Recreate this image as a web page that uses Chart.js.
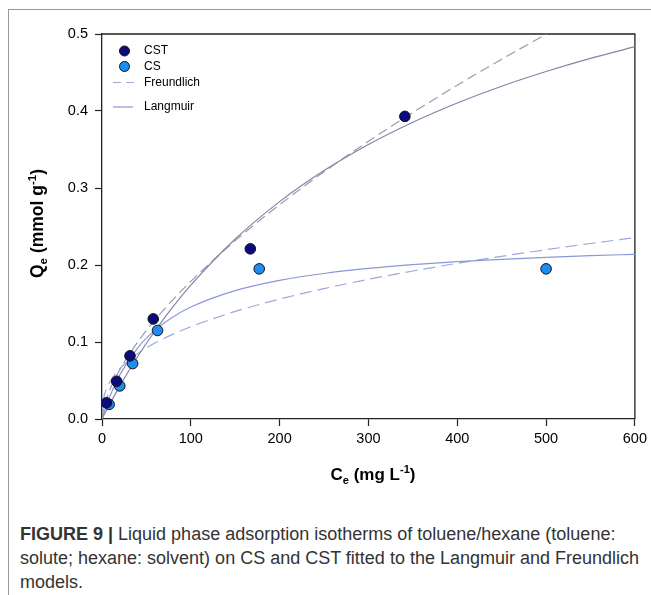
<!doctype HTML>
<html lang="en">
<head>
    <meta charset=utf-8>
    <title>Figure 9</title>
    <style type="text/css">
        * {
            padding: 0;
            margin: 0;
        }

        body {
            background: #fff;
        }

        #wrap {
            position: relative;
            width: 651px;
            height: 595px;
            overflow: hidden;
            background: #fff;
        }

        #frame {
            position: absolute;
            left: 8px;
            top: 9px;
            width: 700px;
            height: 700px;
            border-top: 1.5px solid #999;
            border-left: 1.5px solid #999;
        }

        canvas {
            position: absolute;
            left: 0;
            top: 0;
        }

        #caption {
            position: absolute;
            left: 20px;
            top: 522px;
            font: 18px 'Liberation Sans', Arial, sans-serif;
            line-height: 24px;
            color: #333;
            white-space: nowrap;
        }
    </style>
    <script src="https://cdn.jsdelivr.net/npm/chart.js"></script>
</head>
<body>
    <div id="wrap">
        <div id="frame"></div>
        <canvas id="isoChart" width="651" height="500"></canvas>
        <div id="caption">
            <b>FIGURE 9 |</b> Liquid phase adsorption isotherms of toluene/hexane (toluene:<br>
            solute; hexane: solvent) on CS and CST fitted to the Langmuir and Freundlich<br>
            models.
        </div>
    </div>

    <script type="text/javascript">
        // measured points
        const cstCe = [5, 16.5, 31.5, 57.7, 167, 341];
        const cstQe = [0.021, 0.049, 0.082, 0.130, 0.221, 0.393];
        const csCe = [8, 20, 34.5, 62.5, 177, 500];
        const csQe = [0.019, 0.043, 0.072, 0.115, 0.195, 0.195];

        // fitted curves
        const fitCe = [0, 2, 5, 10, 20, 40, 60, 80, 100, 150, 200, 250, 300, 350, 400, 450, 500, 550, 600];
        const cstLangmuir = [0, 0.0045, 0.0111, 0.0220, 0.0427, 0.0808, 0.1149, 0.1458, 0.1738, 0.2337, 0.2823, 0.3226, 0.3565, 0.3854, 0.4104, 0.4322, 0.4513, 0.4683, 0.4835];
        const cstFreundlich = [0, 0.0147, 0.0264, 0.0411, 0.0640, 0.0996, 0.1291, 0.1551, 0.1788, 0.2316, 0.2784, 0.3210, 0.3607, 0.3980, 0.4335, 0.4672, 0.4996, 0.5310, 0.5610];
        const csLangmuir = [0, 0.0073, 0.0175, 0.0326, 0.0573, 0.0922, 0.1157, 0.1326, 0.1454, 0.1667, 0.1800, 0.1890, 0.1955, 0.2004, 0.2043, 0.2074, 0.2100, 0.2121, 0.2139];
        const csFreundlich = [0, 0.0274, 0.0387, 0.0503, 0.0653, 0.0849, 0.0989, 0.1102, 0.1199, 0.1397, 0.1557, 0.1693, 0.1814, 0.1922, 0.2022, 0.2113, 0.2199, 0.2279, 0.2355];

        const xTicks = [0, 100, 200, 300, 400, 500, 600];
        const yTicks = [0, 0.1, 0.2, 0.3, 0.4, 0.5];

        const FONT = "'Liberation Sans', Arial, sans-serif";
        const CST_COLOR = '#0b0b7e';
        const CS_COLOR = '#1e8cf2';
        const CST_LINE = '#8484a6';
        const CST_DASH = '#9a9ab2';
        const CS_LINE = '#8a98d8';
        const CS_DASH = '#9ca8de';

        const pts = (xs, ys) => xs.map((x, i) => ({ x: x, y: ys[i] }));

        function lineSet(label, ys, color, dash) {
            return {
                label: label,
                data: pts(fitCe, ys),
                showLine: true,
                borderColor: color,
                borderWidth: 1.2,
                borderDash: dash,
                pointRadius: 0,
                cubicInterpolationMode: 'monotone',
                fill: false
            };
        }

        // draws a string made of parts with sub/superscripts, centered at (0,0)
        function drawRich(ctx, parts) {
            let w = 0;
            parts.forEach(p => {
                ctx.font = 'bold ' + p.size + 'px ' + FONT;
                p.w = ctx.measureText(p.t).width;
                w += p.w;
            });
            let x = -w / 2;
            ctx.textAlign = 'left';
            ctx.textBaseline = 'alphabetic';
            parts.forEach(p => {
                ctx.font = 'bold ' + p.size + 'px ' + FONT;
                ctx.fillText(p.t, x, p.dy || 0);
                x += p.w;
            });
        }

        const extras = {
            id: 'extras',
            beforeDatasetsDraw(chart) {
                const ctx = chart.ctx;
                const a = chart.chartArea;
                ctx.save();
                ctx.strokeStyle = '#222';
                ctx.lineWidth = 1.3;
                ctx.beginPath();
                ctx.moveTo(a.left, a.top);
                ctx.lineTo(a.right, a.top);
                ctx.lineTo(a.right, a.bottom);
                ctx.stroke();
                ctx.restore();
            },
            afterDraw(chart) {
                const ctx = chart.ctx;
                const a = chart.chartArea;
                ctx.save();
                ctx.fillStyle = '#000';

                // x title
                ctx.save();
                ctx.translate(373, 480);
                drawRich(ctx, [
                    { t: 'C', size: 17 },
                    { t: 'e', size: 11, dy: 4 },
                    { t: ' (mg L', size: 17 },
                    { t: '-1', size: 11, dy: -7 },
                    { t: ')', size: 17 }
                ]);
                ctx.restore();

                // y title
                ctx.save();
                ctx.translate(43, 223.5);
                ctx.rotate(-Math.PI / 2);
                drawRich(ctx, [
                    { t: 'Q', size: 17.5 },
                    { t: 'e', size: 11.5, dy: 4 },
                    { t: ' (mmol g', size: 17.5 },
                    { t: '-1', size: 11.5, dy: -7 },
                    { t: ')', size: 17.5 }
                ]);
                ctx.restore();

                // legend
                const lx = a.left + 22.5;
                const tx = a.left + 42;
                ctx.font = '12px ' + FONT;
                ctx.textBaseline = 'middle';
                ctx.textAlign = 'left';
                [[CST_COLOR, 'CST', a.top + 17], [CS_COLOR, 'CS', a.top + 32.5]].forEach(r => {
                    ctx.beginPath();
                    ctx.arc(lx, r[2], 5, 0, Math.PI * 2);
                    ctx.fillStyle = r[0];
                    ctx.fill();
                    ctx.strokeStyle = '#111';
                    ctx.lineWidth = 1;
                    ctx.stroke();
                    ctx.fillStyle = '#000';
                    ctx.fillText(r[1], tx, r[2]);
                });
                ctx.lineWidth = 1.2;
                ctx.strokeStyle = CS_DASH;
                ctx.setLineDash([8, 5]);
                ctx.beginPath();
                ctx.moveTo(a.left + 11, a.top + 48.5);
                ctx.lineTo(a.left + 33, a.top + 48.5);
                ctx.stroke();
                ctx.setLineDash([]);
                ctx.strokeStyle = CS_LINE;
                ctx.beginPath();
                ctx.moveTo(a.left + 11, a.top + 73);
                ctx.lineTo(a.left + 31, a.top + 73);
                ctx.stroke();
                ctx.fillText('Freundlich', tx, a.top + 48.5);
                ctx.fillText('Langmuir', tx, a.top + 73);
                ctx.restore();
            }
        };

        const data = {
            datasets: [
                {
                    label: 'CST',
                    data: pts(cstCe, cstQe),
                    backgroundColor: CST_COLOR,
                    borderColor: '#111',
                    borderWidth: 1,
                    pointRadius: 5.3,
                    showLine: false
                },
                {
                    label: 'CS',
                    data: pts(csCe, csQe),
                    backgroundColor: CS_COLOR,
                    borderColor: '#111',
                    borderWidth: 1,
                    pointRadius: 5.3,
                    showLine: false
                },
                lineSet('CST Langmuir', cstLangmuir, CST_LINE, []),
                lineSet('CST Freundlich', cstFreundlich, CST_DASH, [10, 5]),
                lineSet('CS Langmuir', csLangmuir, CS_LINE, []),
                lineSet('CS Freundlich', csFreundlich, CS_DASH, [12, 6])
            ]
        };

        const tickFont = { family: FONT, size: 14.5 };

        const config = {
            type: 'scatter',
            data,
            options: {
                responsive: false,
                animation: false,
                layout: { padding: { top: 34, right: 15, bottom: 30, left: 0 } },
                plugins: {
                    legend: { display: false },
                    tooltip: { enabled: false }
                },
                scales: {
                    x: {
                        type: 'linear',
                        min: xTicks[0],
                        max: xTicks[xTicks.length - 1],
                        afterBuildTicks: s => { s.ticks = xTicks.map(v => ({ value: v })); },
                        afterFit: s => { s.height = 51; },
                        ticks: { font: tickFont, color: '#000', padding: 4, maxRotation: 0 },
                        grid: { drawOnChartArea: false, tickLength: 7, tickColor: '#222', tickWidth: 1.2 },
                        border: { color: '#222', width: 1.3 }
                    },
                    y: {
                        type: 'linear',
                        min: yTicks[0],
                        max: yTicks[yTicks.length - 1],
                        afterBuildTicks: s => { s.ticks = yTicks.map(v => ({ value: v })); },
                        afterFit: s => { s.width = 102; },
                        ticks: { font: tickFont, color: '#000', padding: 7, callback: v => v.toFixed(1) },
                        grid: { drawOnChartArea: false, tickLength: 7, tickColor: '#222', tickWidth: 1.2 },
                        border: { color: '#222', width: 1.3 }
                    }
                }
            },
            plugins: [extras]
        };

        const chart = new Chart(document.getElementById('isoChart'), config);
    </script>
</body>
</html>
